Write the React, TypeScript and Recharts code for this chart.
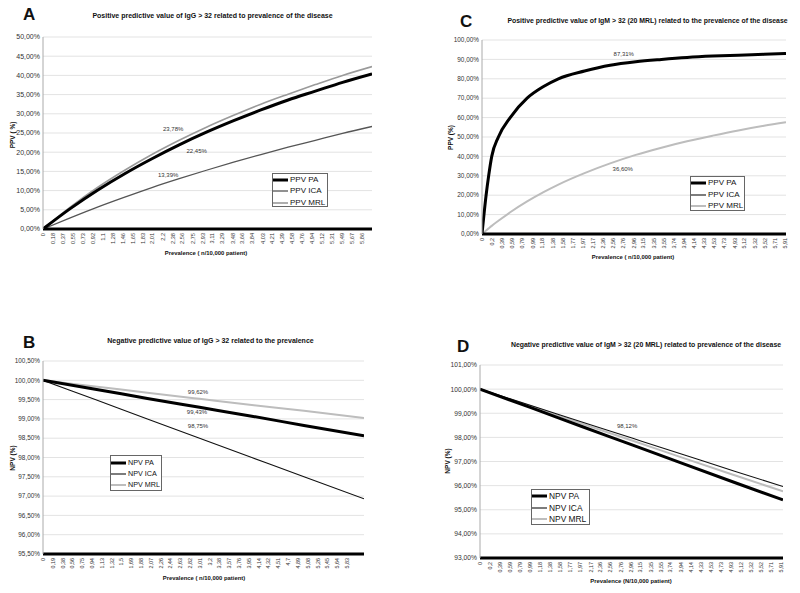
import React from "react";
import { LineChart, Line, XAxis, YAxis, CartesianGrid, Legend } from "recharts";

const FONT = "'Liberation Sans', Arial, Helvetica, sans-serif";

// ---- Panel A : PPV IgG > 32 ----
const xA = [0, 0.5, 1, 1.5, 2, 2.5, 3, 3.5, 4, 4.5, 5, 5.5, 6.04];
const paA = [0, 5.3, 10.1, 14.4, 18.3, 21.9, 25.2, 28.2, 31.0, 33.6, 35.9, 38.2, 40.4];
const icaA = [0, 2.9, 5.7, 8.3, 10.8, 13.1, 15.3, 17.4, 19.4, 21.3, 23.1, 24.9, 26.7];
const mrlA = [0, 5.7, 10.8, 15.3, 19.4, 23.1, 26.5, 29.6, 32.5, 35.1, 37.6, 40.0, 42.3];
const ticksA = [0, 0.18, 0.37, 0.55, 0.73, 0.92, 1.1, 1.28, 1.46, 1.65, 1.83, 2.01, 2.2, 2.38, 2.56, 2.75, 2.93, 3.11, 3.29, 3.48, 3.66, 3.84, 4.03, 4.21, 4.39, 4.58, 4.76, 4.94, 5.12, 5.31, 5.49, 5.67, 5.86];
const yTicksA = [0, 5, 10, 15, 20, 25, 30, 35, 40, 45, 50];

// ---- Panel B : NPV IgG > 32 ----
const xB = [0, 1, 2, 3, 4, 5, 6.15];
const paB = [100, 99.77, 99.53, 99.3, 99.07, 98.83, 98.56];
const icaB = [100, 99.5, 99.0, 98.5, 98.0, 97.5, 96.93];
const mrlB = [100, 99.84, 99.68, 99.52, 99.36, 99.21, 99.02];
const ticksB = [0, 0.19, 0.38, 0.56, 0.75, 0.94, 1.13, 1.32, 1.5, 1.69, 1.88, 2.07, 2.26, 2.44, 2.63, 2.82, 3.01, 3.2, 3.38, 3.57, 3.76, 3.95, 4.14, 4.32, 4.51, 4.7, 4.89, 5.08, 5.26, 5.45, 5.64, 5.83];
const yTicksB = [95.5, 96, 96.5, 97, 97.5, 98, 98.5, 99, 99.5, 100, 100.5];

// ---- Panel C : PPV IgM > 32 (20 MRL) ----
const xC = [0, 0.08, 0.13, 0.19, 0.32, 0.55, 0.88, 1.2, 1.49, 2, 2.5, 3, 3.5, 4, 4.5, 5, 5.5, 5.93];
const paC = [0, 20, 30, 40, 50, 60, 70, 76, 80, 84, 87, 88.8, 90, 91, 91.7, 92.2, 92.6, 93];
const icaC = [0, 20, 30, 40, 50, 60, 70, 76, 80, 84, 87, 88.8, 90, 91, 91.7, 92.2, 92.6, 93];
const mrlC = [0, 1.8, 2.9, 4.2, 6.8, 11.2, 16.8, 21.6, 25.5, 31.4, 36.4, 40.8, 44.5, 47.8, 50.7, 53.4, 55.8, 57.6];
const ticksC = [0, 0.2, 0.39, 0.59, 0.79, 0.99, 1.18, 1.38, 1.58, 1.77, 1.97, 2.17, 2.36, 2.56, 2.76, 2.96, 3.15, 3.35, 3.55, 3.74, 3.94, 4.14, 4.33, 4.53, 4.73, 4.93, 5.12, 5.32, 5.52, 5.71, 5.91];
const yTicksC = [0, 10, 20, 30, 40, 50, 60, 70, 80, 90, 100];

// ---- Panel D : NPV IgM > 32 (20 MRL) ----
const xD = [0, 1, 2, 3, 4, 5, 5.95];
const paD = [100, 99.23, 98.45, 97.68, 96.9, 96.13, 95.41];
const icaD = [100, 99.32, 98.64, 97.96, 97.28, 96.6, 95.96];
const mrlD = [100, 99.29, 98.57, 97.86, 97.14, 96.43, 95.76];
const ticksD = [0, 0.2, 0.39, 0.59, 0.79, 0.99, 1.18, 1.38, 1.58, 1.77, 1.97, 2.17, 2.36, 2.56, 2.76, 2.96, 3.15, 3.35, 3.55, 3.74, 3.94, 4.14, 4.33, 4.53, 4.73, 4.93, 5.12, 5.32, 5.52, 5.71, 5.91];
const yTicksD = [93, 94, 95, 96, 97, 98, 99, 100, 101];

const build = (xs: number[], pa: number[], ica: number[], mrl: number[]) =>
  xs.map((x, i) => ({ x, pa: pa[i], ica: ica[i], mrl: mrl[i] }));

const fmtX = (v: number) => String(v).replace(".", ",");
const fmtY = (v: number) => v.toFixed(2).replace(".", ",") + "%";

type Ann = { idx: number; text: string; dx: number; dy: number };
type Series = { key: string; name: string; color: string; width: number; ann?: Ann };

function annDot(ann?: Ann) {
  return (p: any) => {
    if (!ann || p.index !== ann.idx) return <g key={`d${p.index}`} />;
    return (
      <text key={`d${p.index}`} x={p.cx + ann.dx} y={p.cy + ann.dy} textAnchor="middle" fontSize={6} fill="#333" fontFamily={FONT}>
        {ann.text}
      </text>
    );
  };
}

function XTick({ x, y, payload, fontSize }: any) {
  return (
    <text
      x={x + 2}
      y={y}
      transform={`rotate(-90, ${x + 2}, ${y})`}
      textAnchor="end"
      fontSize={fontSize}
      fill="#333"
      fontFamily={FONT}
    >
      {fmtX(payload.value)}
    </text>
  );
}

function LegendBox({ items, w, h, fontSize, rowH, padTop }: any) {
  return (
    <div style={{ width: w, height: h, boxSizing: "border-box", border: "1px solid #666", background: "#fff", paddingTop: padTop }}>
      {items.map((s: Series) => (
        <div key={s.key} style={{ display: "flex", alignItems: "center", height: rowH }}>
          <svg width={16} height={6} style={{ flex: "none" }}>
            <line x1={0} x2={15} y1={3} y2={3} stroke={s.color} strokeWidth={s.width} />
          </svg>
          <span style={{ fontFamily: FONT, fontSize, color: "#111", marginLeft: 1, lineHeight: 1, whiteSpace: "nowrap" }}>{s.name}</span>
        </div>
      ))}
    </div>
  );
}

function Panel(props: any) {
  const { left, top, margin, yWidth, data, xDomain, xTicks, yDomain, yTicks, yFont, xFont, series, order, legend } = props;
  return (
    <div style={{ position: "absolute", left, top }}>
      <LineChart width={400} height={300} data={data} margin={margin}>
        <CartesianGrid vertical={false} stroke="#e3e3e3" />
        <XAxis
          type="number"
          dataKey="x"
          domain={xDomain}
          ticks={xTicks}
          interval={0}
          allowDataOverflow
          tick={<XTick fontSize={xFont} />}
          tickLine={false}
          tickSize={0}
          tickMargin={4}
          axisLine={{ stroke: "#000", strokeWidth: 3 }}
          height={20}
        />
        <YAxis
          type="number"
          domain={yDomain}
          ticks={yTicks}
          interval={0}
          width={yWidth}
          allowDataOverflow
          tickFormatter={fmtY}
          tick={{ fontSize: yFont, fill: "#333", fontFamily: FONT }}
          tickLine={false}
          tickSize={1}
          tickMargin={2}
          axisLine={{ stroke: "#aaa" }}
        />
        <Legend
          layout="vertical"
          align="center"
          verticalAlign="middle"
          wrapperStyle={{ left: legend.left, top: legend.top, width: legend.w, height: legend.h }}
          content={() => <LegendBox items={series} {...legend} />}
        />
        {order.map((k: string) => {
          const s = series.find((q: Series) => q.key === k);
          return (
            <Line
              key={s.key}
              type="monotone"
              dataKey={s.key}
              name={s.name}
              stroke={s.color}
              strokeWidth={s.width}
              dot={annDot(s.ann)}
              activeDot={false}
              isAnimationActive={false}
            />
          );
        })}
      </LineChart>
    </div>
  );
}

function T({ x, y, size, bold, anchor, rot, children }: any) {
  return (
    <text
      x={rot ? 0 : x}
      y={rot ? 0 : y}
      transform={rot ? `translate(${x},${y}) rotate(-90)` : undefined}
      fontSize={size}
      fontWeight={bold ? "bold" : "normal"}
      textAnchor={anchor || "start"}
      fontFamily={FONT}
      fill="#111"
    >
      {children}
    </text>
  );
}

export default function App() {
  const seriesA: Series[] = [
    { key: "pa", name: "PPV PA", color: "#000", width: 3, ann: { idx: 5, text: "22,45%", dx: 17.5, dy: 8 } },
    { key: "ica", name: "PPV ICA", color: "#555", width: 1.3, ann: { idx: 5, text: "13,39%", dx: -11, dy: -1.6 } },
    { key: "mrl", name: "PPV MRL", color: "#9a9a9a", width: 1.6, ann: { idx: 5, text: "23,78%", dx: -6, dy: -9 } },
  ];
  const seriesB: Series[] = [
    { key: "pa", name: "NPV PA", color: "#000", width: 3, ann: { idx: 3, text: "99,43%", dx: -2.6, dy: 6.8 } },
    { key: "ica", name: "NPV ICA", color: "#111", width: 1.1, ann: { idx: 3, text: "98,75%", dx: -1.6, dy: -10.1 } },
    { key: "mrl", name: "NPV MRL", color: "#bdbdbd", width: 2, ann: { idx: 3, text: "99,62%", dx: -1.6, dy: -4.7 } },
  ];
  const seriesC: Series[] = [
    { key: "pa", name: "PPV PA", color: "#000", width: 3, ann: { idx: 11, text: "87,31%", dx: -12, dy: -5.6 } },
    { key: "ica", name: "PPV ICA", color: "#111", width: 1.1 },
    { key: "mrl", name: "PPV MRL", color: "#bdbdbd", width: 2, ann: { idx: 11, text: "36,60%", dx: -13, dy: 16.3 } },
  ];
  const seriesD: Series[] = [
    { key: "pa", name: "NPV PA", color: "#000", width: 3 },
    { key: "ica", name: "NPV ICA", color: "#111", width: 1.1, ann: { idx: 3, text: "98,12%", dx: -5.7, dy: -10.2 } },
    { key: "mrl", name: "NPV MRL", color: "#bdbdbd", width: 2 },
  ];

  return (
    <div style={{ position: "absolute", left: 0, top: 0, width: 800, height: 593, background: "#fff", overflow: "hidden" }}>
      <Panel
        left={0}
        top={0}
        margin={{ top: 37, right: 28, left: 0, bottom: 51 }}
        yWidth={43}
        data={build(xA, paA, icaA, mrlA)}
        xDomain={[0, 6.04]}
        xTicks={ticksA}
        yDomain={[0, 50]}
        yTicks={yTicksA}
        yFont={7}
        xFont={5.6}
        series={seriesA}
        order={["ica", "mrl", "pa"]}
        legend={{ left: 272, top: 173, w: 56, h: 34, fontSize: 8, rowH: 11.5, padTop: 0 }}
      />
      <Panel
        left={400}
        top={0}
        margin={{ top: 40, right: 14, left: 32, bottom: 46 }}
        yWidth={50}
        data={build(xC, paC, icaC, mrlC)}
        xDomain={[0, 5.93]}
        xTicks={ticksC}
        yDomain={[0, 100]}
        yTicks={yTicksC}
        yFont={6.4}
        xFont={5.4}
        series={seriesC}
        order={["mrl", "ica", "pa"]}
        legend={{ left: 290, top: 176, w: 55, h: 35, fontSize: 8, rowH: 11.5, padTop: 0.5 }}
      />
      <Panel
        left={0}
        top={300}
        margin={{ top: 61, right: 36, left: 0, bottom: 26 }}
        yWidth={43}
        data={build(xB, paB, icaB, mrlB)}
        xDomain={[0, 6.15]}
        xTicks={ticksB}
        yDomain={[95.5, 100.5]}
        yTicks={yTicksB}
        yFont={6.4}
        xFont={5.4}
        series={seriesB}
        order={["mrl", "ica", "pa"]}
        legend={{ left: 110, top: 155, w: 52, h: 36, fontSize: 7.2, rowH: 11, padTop: 1.5 }}
      />
      <Panel
        left={400}
        top={300}
        margin={{ top: 65, right: 17, left: 30, bottom: 22 }}
        yWidth={50}
        data={build(xD, paD, icaD, mrlD)}
        xDomain={[0, 5.95]}
        xTicks={ticksD}
        yDomain={[93, 101]}
        yTicks={yTicksD}
        yFont={6.7}
        xFont={5.4}
        series={seriesD}
        order={["mrl", "ica", "pa"]}
        legend={{ left: 131, top: 189, w: 59, h: 36, fontSize: 8.4, rowH: 11.5, padTop: 0.5 }}
      />
      <svg width={800} height={593} style={{ position: "absolute", left: 0, top: 0, pointerEvents: "none" }}>
        <T x={23} y={20} size={17} bold>A</T>
        <T x={460} y={27} size={17} bold>C</T>
        <T x={23} y={348} size={17} bold>B</T>
        <T x={457} y={352} size={17} bold>D</T>

        <T x={212.5} y={18} size={7} bold anchor="middle">Positive predictive value of IgG &gt; 32 related to prevalence of the disease</T>
        <T x={647.5} y={23} size={6.9} bold anchor="middle">Positive predictive value of IgM &gt; 32 (20 MRL) related to the prevalence of the disease</T>
        <T x={210.5} y={343} size={7} bold anchor="middle">Negative predictive value of IgG &gt; 32 related to the prevalence</T>
        <T x={646} y={347} size={6.9} bold anchor="middle">Negative predictive value of IgM &gt; 32 (20 MRL) related to prevalence of the disease</T>

        <T x={206} y={255} size={5.9} bold anchor="middle">Prevalence ( n/10,000 patient)</T>
        <T x={633} y={259} size={5.9} bold anchor="middle">Prevalence ( n/10,000 patient)</T>
        <T x={204} y={580} size={5.9} bold anchor="middle">Prevalence ( n/10,000 patient)</T>
        <T x={631} y={583} size={5.9} bold anchor="middle">Prevalence (N/10,000 patient)</T>

        <T x={15} y={135} size={6.5} bold anchor="middle" rot>PPV ( %)</T>
        <T x={453} y={137.5} size={6.5} bold anchor="middle" rot>PPV (%)</T>
        <T x={15} y={458} size={6.5} bold anchor="middle" rot>NPV (%)</T>
        <T x={450} y={461} size={6.5} bold anchor="middle" rot>NPV (%)</T>
      </svg>
    </div>
  );
}
